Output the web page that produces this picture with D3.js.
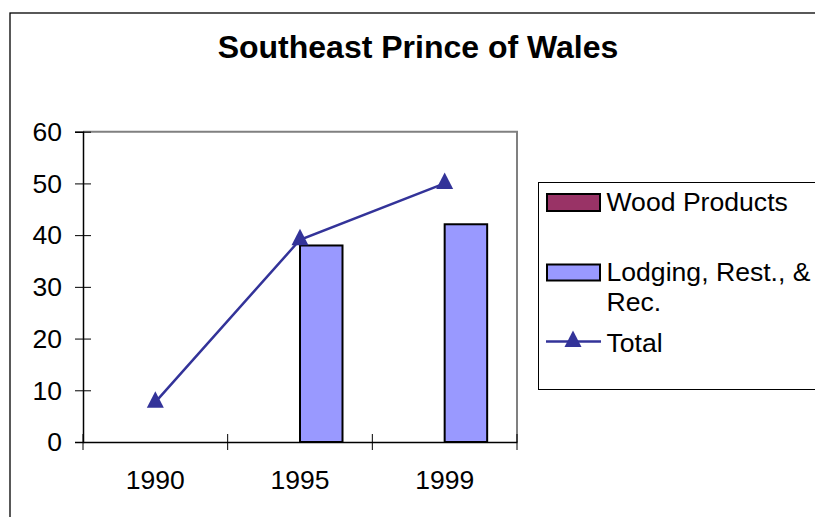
<!DOCTYPE html>
<html><head><meta charset="utf-8">
<script src="https://cdn.jsdelivr.net/npm/d3@7"></script>
<style>body{margin:0;background:#fff}svg{display:block}text{font-family:"Liberation Sans",Arial,sans-serif}</style>
</head><body><svg id="c" width="815" height="517"></svg>
<script>
const title = "Southeast Prince of Wales";
const categories = ["1990", "1995", "1999"];
const seriesNames = ["Wood Products", "Lodging, Rest., & Rec."];
const woodProducts = [null, null, null];
const lodging = [null, 38, 42.1];
const total = [7.7, 39.1, 50];
const yTicks = [0, 10, 20, 30, 40, 50, 60];
const colors = {wood: "#993366", lodging: "#9999FF", total: "#333399"};

const svg = d3.select("#c");
svg.append("rect").attr("x", 10).attr("y", 13).attr("width", 830).attr("height", 540)
  .attr("fill", "#fff").attr("stroke", "#000").attr("stroke-width", 1.3);

svg.append("text").attr("x", 418).attr("y", 58).attr("text-anchor", "middle")
  .attr("font-size", 32).attr("font-weight", "bold").text(title);

const L = 83, R = 517, T = 131.7, B = 442;
const x = d3.scaleBand().domain(categories).range([L, R]).padding(0);
const y = d3.scaleLinear().domain([0, 60]).range([B, T]);
const bw = x.bandwidth();
const x1 = d3.scaleBand().domain(seriesNames).range([bw / 2 - 42.5, bw / 2 + 42.5]).padding(0);

svg.append("path").attr("d", `M${L},${T}H${R}V${B}`).attr("fill", "none")
  .attr("stroke", "#808080").attr("stroke-width", 2);

const barData = [];
categories.forEach((c, i) => {
  if (woodProducts[i] != null) barData.push({c, s: seriesNames[0], v: woodProducts[i], col: colors.wood});
  if (lodging[i] != null) barData.push({c, s: seriesNames[1], v: lodging[i], col: colors.lodging});
});
svg.append("g").selectAll("rect").data(barData).join("rect")
  .attr("x", d => x(d.c) + x1(d.s)).attr("width", x1.bandwidth())
  .attr("y", d => y(d.v)).attr("height", d => y(0) - y(d.v))
  .attr("fill", d => d.col).attr("stroke", "#000").attr("stroke-width", 2);

const yAxis = svg.append("g").attr("transform", `translate(${L},0)`)
  .call(d3.axisLeft(y).tickValues(yTicks).tickSize(8).tickPadding(13));
yAxis.select(".domain").attr("stroke", "#000").attr("stroke-width", 1.5);
yAxis.selectAll(".tick line").attr("x1", 8).attr("stroke", "#000").attr("stroke-width", 1);
yAxis.selectAll(".tick text").attr("font-size", 26.5).attr("font-family", "Liberation Sans, Arial").attr("fill", "#000").attr("dy", "0.33em");

const xAxis = svg.append("g").attr("transform", `translate(0,${B})`)
  .call(d3.axisBottom(x).tickSize(0).tickPadding(28));
xAxis.select(".domain").attr("stroke", "#000").attr("stroke-width", 1.5);
xAxis.selectAll(".tick text").attr("font-size", 26.5).attr("font-family", "Liberation Sans, Arial").attr("fill", "#000").attr("dy", "0.72em");
const bounds = categories.map(c => x(c)).concat([x(categories[categories.length - 1]) + bw]);
xAxis.selectAll("line.cross").data(bounds).join("line").attr("class", "cross")
  .attr("x1", d => d).attr("x2", d => d).attr("y1", -8).attr("y2", 8)
  .attr("stroke", "#000").attr("stroke-width", 1);

const triType = {draw(ctx, size) {
  const w = 17, h = 16.5;
  ctx.moveTo(0, -h * 2 / 3);
  ctx.lineTo(w / 2, h / 3);
  ctx.lineTo(-w / 2, h / 3);
  ctx.closePath();
}};
const tri = d3.symbol().type(triType);

const pts = categories.map((c, i) => [x(c) + bw / 2, y(total[i])]);
svg.append("path").attr("d", d3.line()(pts)).attr("fill", "none")
  .attr("stroke", colors.total).attr("stroke-width", 2.5);
svg.append("g").selectAll("path").data(pts).join("path")
  .attr("transform", d => `translate(${d[0]},${d[1]})`).attr("d", tri).attr("fill", colors.total);

const lg = svg.append("g");
lg.append("rect").attr("x", 538.5).attr("y", 182.5).attr("width", 300).attr("height", 207)
  .attr("fill", "#fff").attr("stroke", "#000").attr("stroke-width", 1);
const fs = 26.6;
lg.append("rect").attr("x", 547).attr("y", 194).attr("width", 53).attr("height", 17)
  .attr("fill", colors.wood).attr("stroke", "#000").attr("stroke-width", 2);
lg.append("text").attr("x", 606.5).attr("y", 211).attr("font-size", fs).text(seriesNames[0]);
lg.append("rect").attr("x", 547).attr("y", 264.5).attr("width", 53).attr("height", 16)
  .attr("fill", colors.lodging).attr("stroke", "#000").attr("stroke-width", 2);
lg.append("text").attr("x", 606.5).attr("y", 281).attr("font-size", fs).text("Lodging, Rest., &");
lg.append("text").attr("x", 606.5).attr("y", 311).attr("font-size", fs).text("Rec.");
lg.append("line").attr("x1", 546).attr("x2", 601).attr("y1", 341.5).attr("y2", 341.5)
  .attr("stroke", colors.total).attr("stroke-width", 2.5);
lg.append("path").attr("transform", "translate(573,341.5)").attr("d", tri).attr("fill", colors.total);
lg.append("text").attr("x", 606.5).attr("y", 351.5).attr("font-size", fs).text("Total");
</script></body></html>
